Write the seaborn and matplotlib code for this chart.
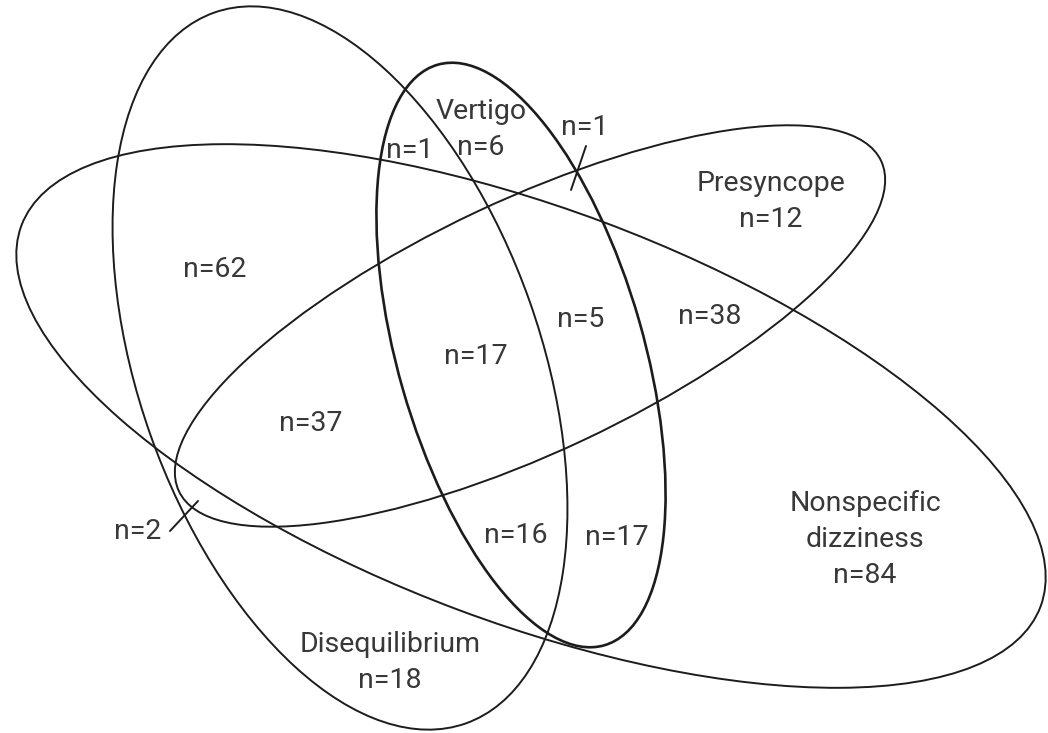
import matplotlib
matplotlib.use("Agg")
import matplotlib.pyplot as plt
from matplotlib.patches import Ellipse
import seaborn as sns

# categories and counts
set_names = ["Vertigo", "Presyncope", "Nonspecific\ndizziness", "Disequilibrium"]
set_only = [6, 12, 84, 18]
overlap_counts = [1, 1, 62, 17, 5, 38, 37, 2, 16, 17]

# layout (pixel space, y going down)
# ellipse: centre x, centre y, semi-major, semi-minor, angle, line width
shapes = [
    (521, 355, 302, 123, 74.0, 1.9),
    (530, 326, 388, 126, -25.2, 1.4),
    (531, 416, 544, 207, 20.5, 1.4),
    (340, 368, 377, 201, 70.5, 1.4),
]
# name anchor: centre x, baseline of first line
name_pos = [(481, 119), (771, 191), (865, 511), (390, 652)]
overlap_pos = [(410, 158), (585, 135), (215, 277), (476, 364), (581, 327),
               (710, 324), (311, 431), (138, 539), (516, 543), (617, 545)]
pointers = [((586, 146), (571, 190)), ((170, 531), (198, 501))]

sns.set_theme(style="white")
plt.rcParams["font.family"] = ["Roboto", "DejaVu Sans"]

fig = plt.figure(figsize=(10.48, 7.33), dpi=100)
ax = fig.add_axes([0, 0, 1, 1])
ax.set_xlim(0, 1048)
ax.set_ylim(733, 0)
ax.axis("off")

line_col = "#1c1c1c"
txt_col = "#383838"
fs = 20.5
step = 36

for cx, cy, a, b, ang, lw in shapes:
    ax.add_patch(Ellipse((cx, cy), 2 * a, 2 * b, angle=ang, fill=False,
                         edgecolor=line_col, linewidth=lw))

for name, n, (x, y) in zip(set_names, set_only, name_pos):
    lines = name.split("\n")
    for i, ln in enumerate(lines):
        ax.text(x, y + i * step, ln, ha="center", va="baseline",
                fontsize=fs, color=txt_col)
    ax.text(x, y + len(lines) * step, f"n={n}", ha="center", va="baseline",
            fontsize=fs, color=txt_col)

for n, (x, y) in zip(overlap_counts, overlap_pos):
    ax.text(x, y, f"n={n}", ha="center", va="baseline", fontsize=fs, color=txt_col)

for (x0, y0), (x1, y1) in pointers:
    ax.plot([x0, x1], [y0, y1], color=line_col, linewidth=1.4)

fig.savefig("out.png", dpi=100, facecolor="white")
